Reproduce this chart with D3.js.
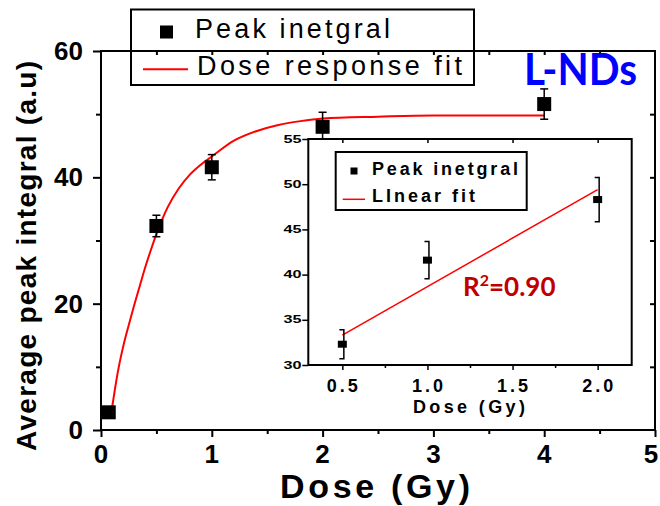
<!DOCTYPE html>
<html><head><meta charset="utf-8">
<script src="https://cdn.jsdelivr.net/npm/d3@7"></script>
<style>
body{margin:0;background:#fff}
svg{display:block;font-family:"Liberation Sans",Arial,sans-serif}
</style></head><body>
<svg id="chart" width="660" height="506"></svg>
<script>
// Main panel: average peak integral vs dose
const doses = [0.07, 0.5, 1, 2, 4];
const peakIntegral = [2.8, 32.3, 41.6, 48.0, 51.6];
const peakError = [0, 1.7, 2.0, 2.3, 2.4];

// Dose-response fit curve samples
const fitDose = [0.1, 0.15, 0.2, 0.25, 0.3, 0.35, 0.4, 0.45, 0.5, 0.6, 0.7, 0.8, 0.9, 1.0, 1.2, 1.4, 1.6, 1.8, 2.0, 2.5, 3.0, 3.5, 4.0];
const fitValue = [3.5, 9.0, 13.2, 16.6, 19.8, 22.8, 25.8, 28.5, 31.0, 35.2, 38.2, 40.4, 42.0, 43.3, 45.8, 47.3, 48.3, 48.9, 49.3, 49.6, 49.8, 49.8, 49.8];

const xTicks = [0, 1, 2, 3, 4, 5];
const xMinor = [0.5, 1.5, 2.5, 3.5, 4.5];
const yTicks = [0, 20, 40, 60];
const yMinor = [10, 30, 50];

// Inset: linear region 0.5–2 Gy
const insetDoses = [0.5, 1.0, 2.0];
const insetValues = [32.3, 41.6, 48.3];
const insetError = [1.6, 2.05, 2.45];
const linearFitDose = [0.5, 2.0];
const linearFitValue = [33.3, 49.4];
const insetXTicks = [0.5, 1.0, 1.5, 2.0];
const insetXMinor = [0.75, 1.25, 1.75];
const insetYTicks = [30, 35, 40, 45, 50, 55];

const svg = d3.select("#chart");

function label(g, text, x, y, o = {}) {
  const t = g.append("text").attr("x", x).attr("y", y).text(text)
    .attr("font-size", o.size || 14)
    .attr("font-weight", o.weight || "normal")
    .attr("text-anchor", o.anchor || "start")
    .attr("fill", o.fill || "#000");
  if (o.family) t.attr("font-family", o.family);
  if (o.length) t.attr("textLength", o.length).attr("lengthAdjust", o.adjust || "spacing");
  if (o.transform) t.attr("transform", o.transform);
  return t;
}

function styleAxis(g, width) {
  g.select(".domain").remove();
  g.selectAll(".tick line").attr("stroke", "#000").attr("stroke-width", width);
  g.selectAll(".tick text").remove();
}

// ---------- main panel ----------
const x = d3.scaleLinear().domain([0, 5]).range([101, 655]);
const y = d3.scaleLinear().domain([0, 60]).range([430, 51]);
const main = svg.append("g");

main.append("g").attr("transform", `translate(0,${y(0)})`)
  .call(d3.axisBottom(x).tickValues(xTicks).tickSize(7).tickSizeOuter(0)).call(g => styleAxis(g, 2));
main.append("g").attr("transform", `translate(0,${y(0)})`)
  .call(d3.axisBottom(x).tickValues(xMinor).tickSize(4).tickSizeOuter(0)).call(g => styleAxis(g, 2));
main.append("g").attr("transform", `translate(${x(0)},0)`)
  .call(d3.axisLeft(y).tickValues(yTicks).tickSize(8).tickSizeOuter(0)).call(g => styleAxis(g, 2));
main.append("g").attr("transform", `translate(${x(0)},0)`)
  .call(d3.axisLeft(y).tickValues(yMinor).tickSize(5).tickSizeOuter(0)).call(g => styleAxis(g, 2));
main.append("g").attr("transform", `translate(0,${y(60)})`)
  .call(d3.axisTop(x).tickValues(xMinor.concat(xTicks.slice(1, 5))).tickSize(-4).tickSizeOuter(0)).call(g => styleAxis(g, 2));
main.append("g").attr("transform", `translate(${x(5)},0)`)
  .call(d3.axisRight(y).tickValues(yMinor.concat(yTicks.slice(1, 3))).tickSize(-5).tickSizeOuter(0)).call(g => styleAxis(g, 2));

main.append("rect").attr("x", x(0)).attr("y", y(60))
  .attr("width", x(5) - x(0)).attr("height", y(0) - y(60))
  .attr("fill", "none").attr("stroke", "#000").attr("stroke-width", 2);

// the last label sits against the right edge of the page
xTicks.forEach(v => label(main, v, Math.min(x(v), 651), 463, { size: 26, weight: "bold", anchor: "middle" }));
yTicks.forEach(v => label(main, v, 83, y(v) + 9, { size: 26, weight: "bold", anchor: "end" }));

label(main, "Average peak integral (a.u)", -256, 36,
  { size: 28, weight: "bold", anchor: "middle", length: 390, transform: "rotate(-90)" });
label(main, "Dose (Gy)", 280, 498, { size: 34, weight: "bold", length: 190 });

// fit curve
const fitLine = d3.line().x(d => x(d[0])).y(d => y(d[1])).curve(d3.curveMonotoneX);
main.append("path").datum(fitDose.map((d, i) => [d, fitValue[i]]))
  .attr("d", fitLine).attr("fill", "none").attr("stroke", "#ff0000").attr("stroke-width", 2);

// error bars + squares
const pts = doses.map((d, i) => ({ d, v: peakIntegral[i], e: peakError[i] }));
const eb = main.append("g").attr("stroke", "#000").attr("stroke-width", 1.5);
pts.filter(p => p.e > 0).forEach(p => {
  const cx = x(p.d), y1 = y(p.v + p.e), y2 = y(p.v - p.e);
  eb.append("line").attr("x1", cx).attr("x2", cx).attr("y1", y1).attr("y2", y2);
  eb.append("line").attr("x1", cx - 4).attr("x2", cx + 4).attr("y1", y1).attr("y2", y1);
  eb.append("line").attr("x1", cx - 4).attr("x2", cx + 4).attr("y1", y2).attr("y2", y2);
});
main.selectAll("rect.pt").data(pts).join("rect").attr("class", "pt")
  .attr("x", p => x(p.d) - 7).attr("y", p => y(p.v) - 7)
  .attr("width", 14).attr("height", 14).attr("fill", "#000");

// legend
const leg = main.append("g");
leg.append("rect").attr("x", 131).attr("y", 9.5).attr("width", 343).attr("height", 75.5)
  .attr("fill", "none").attr("stroke", "#000").attr("stroke-width", 2);
leg.append("rect").attr("x", 160).attr("y", 25.5).attr("width", 13).attr("height", 13).attr("fill", "#000");
label(leg, "Peak inetgral", 195, 37.5, { size: 27, length: 195 });
leg.append("line").attr("x1", 143).attr("x2", 188).attr("y1", 69.3).attr("y2", 69.3)
  .attr("stroke", "#ff0000").attr("stroke-width", 2);
label(leg, "Dose response fit", 197, 75, { size: 27, length: 265 });

label(main, "L-NDs", 524, 85, { size: 43, weight: "bold", family: "Lato, 'Liberation Sans', sans-serif", length: 113, adjust: "spacingAndGlyphs", fill: "#0000ff" });

// ---------- inset ----------
const xi = d3.scaleLinear().domain([0.3, 2.2]).range([308.3, 631.7]);
const yi = d3.scaleLinear().domain([30, 55]).range([365, 139]);
const inset = svg.append("g");

inset.append("rect").attr("x", xi(0.3)).attr("y", yi(55))
  .attr("width", xi(2.2) - xi(0.3)).attr("height", yi(30) - yi(55))
  .attr("fill", "#fff").attr("stroke", "none");

inset.append("g").attr("transform", `translate(0,${yi(30)})`)
  .call(d3.axisBottom(xi).tickValues(insetXTicks).tickSize(5).tickSizeOuter(0)).call(g => styleAxis(g, 1.5));
inset.append("g").attr("transform", `translate(0,${yi(30)})`)
  .call(d3.axisBottom(xi).tickValues(insetXMinor).tickSize(3).tickSizeOuter(0)).call(g => styleAxis(g, 1.5));
inset.append("g").attr("transform", `translate(0,${yi(55)})`)
  .call(d3.axisTop(xi).tickValues(insetXTicks).tickSize(-4).tickSizeOuter(0)).call(g => styleAxis(g, 1.5));
inset.append("g").attr("transform", `translate(${xi(0.3)},0)`)
  .call(d3.axisLeft(yi).tickValues(insetYTicks).tickSize(6).tickSizeOuter(0)).call(g => styleAxis(g, 1.5));

inset.append("rect").attr("x", xi(0.3)).attr("y", yi(55))
  .attr("width", xi(2.2) - xi(0.3)).attr("height", yi(30) - yi(55))
  .attr("fill", "none").attr("stroke", "#000").attr("stroke-width", 2);

insetXTicks.forEach(v => label(inset, v.toFixed(1), xi(v), 391.5,
  { size: 18, weight: "bold", anchor: "middle", length: 31 }));
insetYTicks.forEach(v => label(inset, v, 301.5, yi(v) + 3.6,
  { size: 10, weight: "bold", anchor: "end", length: 18, adjust: "spacingAndGlyphs" }));
label(inset, "Dose (Gy)", 413, 413, { size: 18, weight: "bold", length: 112 });

// linear fit
inset.append("path").datum(linearFitDose.map((d, i) => [d, linearFitValue[i]]))
  .attr("d", d3.line().x(d => xi(d[0])).y(d => yi(d[1])))
  .attr("fill", "none").attr("stroke", "#ff0000").attr("stroke-width", 1.5);

// bracket-style error bars + squares
const ipts = insetDoses.map((d, i) => ({ d, v: insetValues[i], e: insetError[i] }));
const ieb = inset.append("g").attr("stroke", "#000").attr("stroke-width", 1.5).attr("fill", "none");
ipts.forEach(p => {
  const cx = xi(p.d), y1 = yi(p.v + p.e), y2 = yi(p.v - p.e);
  ieb.append("path").attr("d", `M${cx - 3},${y1}H${cx + 1.5}V${y2}H${cx - 3}`);
});
inset.selectAll("rect.ipt").data(ipts).join("rect").attr("class", "ipt")
  .attr("x", p => xi(p.d) - 4.5).attr("y", p => yi(p.v) - 3.5)
  .attr("width", 9).attr("height", 7).attr("fill", "#000");

// inset legend
const ileg = inset.append("g");
ileg.append("rect").attr("x", 335.7).attr("y", 152).attr("width", 191).attr("height", 58)
  .attr("fill", "#fff").attr("stroke", "#000").attr("stroke-width", 2);
ileg.append("rect").attr("x", 350.5).attr("y", 167.5).attr("width", 7).attr("height", 7).attr("fill", "#000");
label(ileg, "Peak inetgral", 372, 174.5, { size: 18, weight: "bold", length: 146 });
ileg.append("line").attr("x1", 342.7).attr("x2", 365).attr("y1", 199.3).attr("y2", 199.3)
  .attr("stroke", "#ff0000").attr("stroke-width", 1.5);
label(ileg, "LInear fit", 372, 202, { size: 18, weight: "bold", length: 103 });

// R² annotation
const r2 = label(inset, "R", 463, 296, { size: 26, weight: "bold", family: "Lato, 'Liberation Sans', sans-serif", fill: "#c00000" });
r2.append("tspan").attr("font-size", 16).attr("dy", -10).text("2");
r2.append("tspan").attr("dy", 10).text("=0.90");
</script>
</body></html>
